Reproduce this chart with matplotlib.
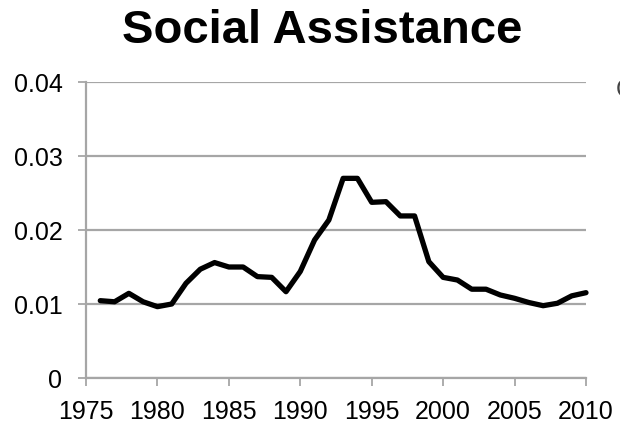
import numpy as np
import matplotlib
matplotlib.use("Agg")
import matplotlib.pyplot as plt

plt.rcParams['font.family'] = ['Liberation Sans', 'DejaVu Sans']

# values
years = list(range(1976, 2011))
values = [0.01045, 0.0103, 0.01144, 0.0103, 0.00964, 0.0100, 0.0128, 0.0147,
          0.0156, 0.0150, 0.0150, 0.0137, 0.0136, 0.01166, 0.0144, 0.01865,
          0.02135, 0.02698, 0.02698, 0.02374, 0.02383, 0.0219, 0.0219, 0.01572,
          0.0136, 0.01324, 0.0120, 0.0120, 0.01122, 0.01077, 0.0102, 0.00977,
          0.0101, 0.0111, 0.01153]
x_ticks = [1975, 1980, 1985, 1990, 1995, 2000, 2005, 2010]
y_ticks = [0, 0.01, 0.02, 0.03, 0.04]
y_labels = ["0", "0.01", "0.02", "0.03", "0.04"]

W, H = 620, 426
fig = plt.figure(figsize=(W / 100, H / 100), dpi=100)
ax = fig.add_axes([86 / W, (H - 378) / H, 500 / W, 296 / H])

grid_col = '#a6a6a6'
ax.plot(years, values, color='black', linewidth=3.8,
        solid_joinstyle='round', solid_capstyle='round', zorder=3, clip_on=False)

ax.set_xlim(1975, 2010)
ax.set_ylim(0, 0.04)
ax.set_xticks(x_ticks)
ax.set_xticklabels([str(t) for t in x_ticks])
ax.set_yticks(y_ticks)
ax.set_yticklabels(y_labels)

ax.yaxis.grid(True, color=grid_col, linewidth=1.6)
ax.set_axisbelow(True)
for side in ['top', 'right']:
    ax.spines[side].set_visible(False)
for side in ['left', 'bottom']:
    ax.spines[side].set_color(grid_col)
    ax.spines[side].set_linewidth(1.6)

ax.tick_params(axis='both', colors=grid_col, labelcolor='black',
               labelsize=18, length=6, width=1.3, direction='out')
ax.tick_params(axis='x', pad=10)
ax.tick_params(axis='y', pad=11)

fig.text(322 / W, 1 - 31 / H, "Social Assistance", ha='center', va='center',
         fontsize=34, fontweight='bold')
# clipped legend glyph at the right edge
fig.text(616 / W, 1 - 90 / H, "C", ha='left', va='center', fontsize=18,
         color='#444444')

fig.savefig('out.png', dpi=100)
